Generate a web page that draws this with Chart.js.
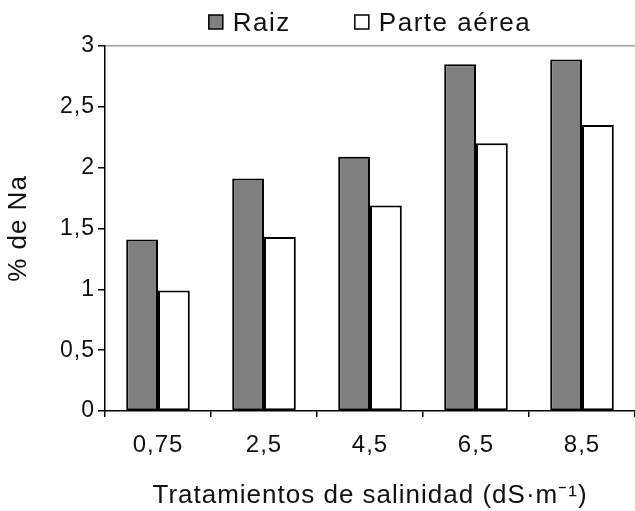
<!DOCTYPE html>
<html><head><meta charset="utf-8">
<script src="https://cdn.jsdelivr.net/npm/chart.js@4.4.1/dist/chart.umd.min.js"></script>
<style>html,body{margin:0;padding:0;background:#fff;}#wrap{width:635px;height:511px;}</style>
</head><body><div id="wrap"><canvas id="c" width="635" height="511"></canvas></div>
<script>
const categories = ['0,75', '2,5', '4,5', '6,5', '8,5'];
const raiz = [1.41, 1.91, 2.09, 2.85, 2.89];
const parteAerea = [0.99, 1.43, 1.69, 2.20, 2.35];
const yTickLabels = ['0', '0,5', '1', '1,5', '2', '2,5', '3'];
const seriesNames = ['Raiz', 'Parte aérea'];
const xTitle = 'Tratamientos de salinidad (dS·m⁻¹)';
const yTitle = '% de Na';

const FONT = '"Liberation Sans", Arial, sans-serif';
const TXT = '#111';

const spacingPlugin = {
  id: 'letterSpacing',
  beforeUpdate(c) { c.ctx.letterSpacing = '1px'; },
  beforeDraw(c) { c.ctx.letterSpacing = '1px'; }
};

const legendPlugin = {
  id: 'topLegend',
  afterDraw(c) {
    const ctx = c.ctx;
    ctx.save();
    ctx.letterSpacing = '1.5px';
    ctx.font = '26px ' + FONT;
    ctx.textBaseline = 'alphabetic';
    const box = 14, gap = 10, itemGap = 64;
    const ds = c.data.datasets;
    const widths = ds.map(d => ctx.measureText(d.label).width);
    const total = widths.reduce((a, w) => a + box + gap + w, 0) + itemGap * (ds.length - 1);
    let x = (c.chartArea.left + c.chartArea.right) / 2 - total / 2;
    const baseY = 31;
    ds.forEach((d, i) => {
      ctx.fillStyle = d.backgroundColor;
      ctx.fillRect(x, baseY - 16, box, box);
      ctx.lineWidth = 1.5;
      ctx.strokeStyle = '#000';
      ctx.strokeRect(x, baseY - 16, box, box);
      ctx.fillStyle = TXT;
      ctx.fillText(d.label, x + box + gap, baseY);
      x += box + gap + widths[i] + itemGap;
    });
    ctx.restore();
  }
};

new Chart(document.getElementById('c'), {
  type: 'bar',
  data: {
    labels: categories,
    datasets: [
      { label: seriesNames[0], data: raiz, backgroundColor: '#808080', borderColor: '#000', borderWidth: 2, borderSkipped: false },
      { label: seriesNames[1], data: parteAerea, backgroundColor: '#ffffff', borderColor: '#000', borderWidth: 2, borderSkipped: false }
    ]
  },
  options: {
    responsive: false,
    animation: false,
    devicePixelRatio: 1,
    layout: { padding: { top: 46, left: 0, right: 0, bottom: 0 } },
    datasets: { bar: { barPercentage: 1, categoryPercentage: 0.6 } },
    plugins: { legend: { display: false }, tooltip: { enabled: false } },
    scales: {
      x: {
        grid: { display: true, drawOnChartArea: false, drawTicks: true, tickLength: 6, color: '#000', lineWidth: 1.5, offset: true },
        border: { display: true, color: '#000', width: 1.5 },
        ticks: { font: { family: FONT, size: 24 }, color: TXT, padding: 14, maxRotation: 0, autoSkip: false },
        title: { display: true, text: xTitle, font: { family: FONT, size: 26 }, color: TXT, padding: { top: 0, bottom: 0 } },
        afterFit(s) { s.height = 100; }
      },
      y: {
        min: 0, max: 3,
        ticks: { stepSize: 0.5, font: { family: FONT, size: 23 }, color: TXT, padding: 3,
          callback: (v, i) => yTickLabels[i] },
        grid: {
          color: ctx => (ctx.tick && ctx.tick.value === 3) ? '#a0a0a0' : 'rgba(0,0,0,0)',
          tickColor: '#000', tickLength: 7, lineWidth: 1.5, drawTicks: true
        },
        border: { display: true, color: '#000', width: 1.5 },
        title: { display: true, text: yTitle, font: { family: FONT, size: 26 }, color: TXT, padding: { top: 3, bottom: 0 } },
        afterFit(s) { s.width = 105; }
      }
    }
  },
  plugins: [spacingPlugin, legendPlugin]
});
</script>
</body></html>
